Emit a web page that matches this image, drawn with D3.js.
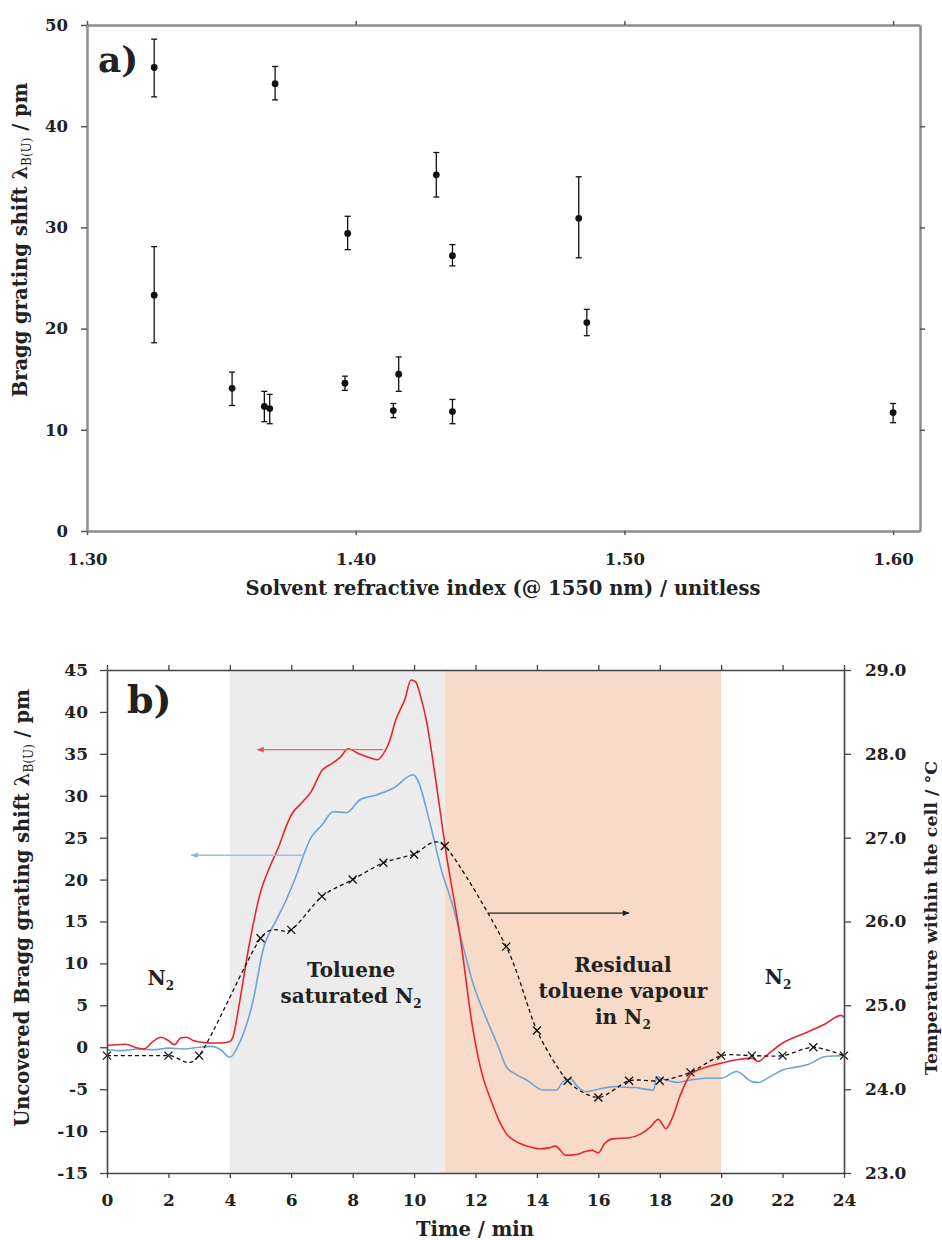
<!DOCTYPE html>
<html>
<head>
<meta charset="utf-8">
<script src="https://cdn.jsdelivr.net/npm/d3@7"></script>
<style>
  html, body { margin: 0; padding: 0; background: #fff; }
  svg { display: block; }
  text { font-family: "DejaVu Serif", "Liberation Serif", serif; font-weight: bold; fill: #222; }
</style>
</head>
<body>
<svg id="chart" width="942" height="1240"></svg>
<script>
// ---------------- Panel a data ----------------
const riX    = [1.325, 1.325, 1.354, 1.366, 1.368, 1.370, 1.396, 1.397, 1.414, 1.416, 1.430, 1.436, 1.436, 1.483, 1.486, 1.600];
const shiftA = [45.8, 23.3, 14.1, 12.3, 12.1, 44.2, 14.6, 29.4, 11.9, 15.5, 35.2, 27.2, 11.8, 30.9, 20.6, 11.7];
const errLo  = [42.9, 18.6, 12.4, 10.8, 10.6, 42.6, 13.9, 27.8, 11.2, 13.8, 33.0, 26.2, 10.6, 27.0, 19.3, 10.7];
const errHi  = [48.6, 28.1, 15.7, 13.8, 13.5, 45.9, 15.3, 31.1, 12.6, 17.2, 37.4, 28.3, 13.0, 35.0, 21.9, 12.6];
const xTicksA = [1.30, 1.40, 1.50, 1.60];
const yTicksA = [0, 10, 20, 30, 40, 50];

// ---------------- Panel b data ----------------
const redT = [0, 0.3, 0.6, 1.0, 1.2, 1.5, 1.75, 2.0, 2.2, 2.4, 2.6, 2.8, 3.1, 3.4, 3.7, 4.0, 4.1, 4.3, 4.6, 5.0, 5.3, 5.6, 5.85, 6.05, 6.3, 6.65, 7.0, 7.35, 7.6, 7.85, 8.2, 8.5, 8.8, 9.0, 9.2, 9.4, 9.7, 9.9, 10.05, 10.2, 10.4, 10.7, 11.05, 11.5, 11.9, 12.2, 12.5, 12.8, 13.0, 13.3, 13.7, 14.1, 14.4, 14.6, 14.95, 15.3, 15.6, 15.8, 16.0, 16.2, 16.5, 17.0, 17.4, 17.7, 17.95, 18.2, 18.4, 18.65, 19.0, 19.5, 20.0, 20.5, 21.0, 21.2, 21.5, 22.0, 22.4, 22.8, 23.4, 23.9, 24.0];
const redV = [0.2, 0.3, 0.35, -0.1, -0.2, 0.7, 1.2, 0.8, 0.3, 1.1, 1.2, 0.8, 0.6, 0.5, 0.5, 0.7, 1.2, 5.0, 11.6, 18.5, 21.5, 24.0, 26.5, 28.0, 29.0, 30.5, 33.0, 33.9, 34.6, 35.6, 35.0, 34.6, 34.3, 35.0, 36.5, 39.0, 41.5, 43.8, 43.6, 42.0, 39.0, 32.0, 23.0, 13.2, 2.5, -3.0, -6.3, -9.0, -10.3, -11.2, -11.8, -12.1, -12.0, -11.8, -12.9, -12.8, -12.4, -12.3, -12.6, -11.5, -10.9, -10.8, -10.3, -9.5, -8.6, -9.7, -8.5, -5.9, -3.3, -2.4, -1.9, -1.5, -1.3, -1.7, -0.9, 0.5, 1.2, 1.8, 2.8, 3.8, 3.6];

const blueT = [0, 0.5, 1.0, 1.5, 2.0, 2.5, 3.0, 3.4, 3.7, 4.0, 4.3, 4.76, 5.08, 5.52, 5.84, 6.06, 6.66, 7.0, 7.36, 7.8, 8.23, 8.77, 9.32, 9.97, 10.1, 10.5, 10.9, 11.27, 11.6, 11.92, 12.2, 12.47, 12.75, 13.0, 13.3, 13.66, 14.2, 14.64, 14.85, 15.1, 15.3, 15.6, 16.0, 16.5, 17.0, 17.2, 17.5, 17.8, 17.9, 18.1, 18.6, 19.0, 19.5, 20.0, 20.5, 21.0, 21.2, 21.6, 22.0, 22.4, 22.8, 23.4, 23.9, 24.0];
const blueV = [-0.3, -0.4, -0.2, -0.3, -0.1, -0.2, 0.0, 0.1, -0.3, -1.2, 0.4, 5.6, 11.6, 15.2, 17.6, 19.5, 25.1, 26.5, 28.1, 28.0, 29.5, 30.1, 30.9, 32.5, 32.0, 27.0, 21.0, 16.75, 12.0, 7.6, 4.8, 2.4, 0.0, -2.3, -3.2, -3.9, -5.1, -5.1, -4.1, -3.8, -4.6, -5.3, -5.0, -4.7, -4.8, -4.8, -5.0, -5.1, -3.5, -3.8, -4.2, -3.9, -3.7, -3.7, -2.9, -4.1, -4.2, -3.5, -2.7, -2.4, -2.1, -1.1, -1.0, -0.9];

const tempT = [0, 2, 3, 5, 6, 7, 8, 9, 10, 11, 13, 14, 15, 16, 17, 18, 19, 20, 21, 22, 23, 24];
const tempV = [24.4, 24.4, 24.4, 25.8, 25.9, 26.3, 26.5, 26.7, 26.8, 26.9, 25.7, 24.7, 24.1, 23.9, 24.1, 24.1, 24.2, 24.4, 24.4, 24.4, 24.5, 24.4];

const regionStart = [4, 11];
const regionEnd   = [11, 20];

const xTicksB  = [0, 2, 4, 6, 8, 10, 12, 14, 16, 18, 20, 22, 24];
const yTicksB  = [-15, -10, -5, 0, 5, 10, 15, 20, 25, 30, 35, 40, 45];
const yTicksBR = [23, 24, 25, 26, 27, 28, 29];

// ---------------- Drawing ----------------
const svg = d3.select("#chart");
const plainInt = d => String(d);   // hyphen-minus like the original

// ===== Panel a =====
const xa = d3.scaleLinear().domain([1.30, 1.61]).range([87, 920]);
const ya = d3.scaleLinear().domain([0, 50]).range([531, 25]);
const gA = svg.append("g");

function styleAxisA(g) {
  g.select(".domain").attr("stroke", "#8c8c8c").attr("stroke-width", 2.5);
  g.selectAll(".tick line").attr("stroke", "#555").attr("stroke-width", 1.5);
  g.selectAll(".tick text").style("font-size", "16.5px").attr("fill", "#222");
}
gA.append("g").attr("transform", `translate(0,${ya(0)})`)
  .call(d3.axisBottom(xa).tickValues(xTicksA).tickSize(4).tickSizeOuter(0).tickPadding(18).tickFormat(d3.format(".2f")))
  .call(styleAxisA);
gA.append("g").attr("transform", `translate(0,${ya(50)})`)
  .call(d3.axisTop(xa).tickValues(xTicksA).tickSize(4).tickSizeOuter(0).tickFormat(""))
  .call(styleAxisA);
gA.append("g").attr("transform", `translate(${xa(1.30)},0)`)
  .call(d3.axisLeft(ya).tickValues(yTicksA).tickSize(6).tickSizeOuter(0).tickPadding(13).tickFormat(plainInt))
  .call(styleAxisA);
gA.append("g").attr("transform", `translate(${xa(1.61)},0)`)
  .call(d3.axisRight(ya).tickValues(yTicksA.slice(1, 5)).tickSize(5).tickSizeOuter(0).tickFormat(""))
  .call(styleAxisA);

// error bars
const eb = gA.append("g").attr("stroke", "#111").attr("stroke-width", 1.3);
riX.forEach((r, i) => {
  const cx = xa(r);
  eb.append("line").attr("x1", cx).attr("x2", cx).attr("y1", ya(errLo[i])).attr("y2", ya(errHi[i]));
  eb.append("line").attr("x1", cx - 3).attr("x2", cx + 3).attr("y1", ya(errLo[i])).attr("y2", ya(errLo[i]));
  eb.append("line").attr("x1", cx - 3).attr("x2", cx + 3).attr("y1", ya(errHi[i])).attr("y2", ya(errHi[i]));
});
gA.append("g").selectAll("circle").data(riX).join("circle")
  .attr("cx", d => xa(d)).attr("cy", (d, i) => ya(shiftA[i])).attr("r", 3.4).attr("fill", "#111");

gA.append("text").attr("x", 98).attr("y", 72).style("font-size", "36px").text("a)");

gA.append("text").attr("x", 503).attr("y", 595).attr("text-anchor", "middle").style("font-size", "19.5px")
  .text("Solvent refractive index (@ 1550 nm) / unitless");
const ytA = gA.append("text").attr("transform", "translate(27,240) rotate(-90)").attr("text-anchor", "middle").style("font-size", "19.5px");
ytA.append("tspan").text("Bragg grating shift λ");
ytA.append("tspan").attr("dy", 4).style("font-size", "12px").style("font-weight", "normal").text("B(U)");
ytA.append("tspan").attr("dy", -4).text(" / pm");

// ===== Panel b =====
const xb = d3.scaleLinear().domain([0, 24]).range([107, 844]);
const yb = d3.scaleLinear().domain([-15, 45]).range([1173, 670]);
const yr = d3.scaleLinear().domain([23, 29]).range([1173, 670]);
const gB = svg.append("g");

const regionColors = ["#ececec", "#f8dac8"];
regionStart.forEach((s, i) => {
  gB.append("rect").attr("x", xb(s)).attr("y", yb(45))
    .attr("width", xb(regionEnd[i]) - xb(s)).attr("height", yb(-15) - yb(45))
    .attr("fill", regionColors[i]);
});

// region labels
function addLabel(t, v, lines) {
  const txt = gB.append("text").attr("text-anchor", "middle").style("font-size", "20px").attr("fill", "#333");
  lines.forEach((ln, k) => {
    const ts = txt.append("tspan").attr("x", xb(t)).attr("y", yb(v) + k * 26);
    if (ln.endsWith("N2")) {
      ts.append("tspan").text(ln.slice(0, -1));
      ts.append("tspan").attr("dy", 5).style("font-size", "12px").text("2");
    } else {
      ts.text(ln);
    }
  });
}
addLabel(1.75, 7.4, ["N2"]);
addLabel(7.95, 8.4, ["Toluene", "saturated N2"]);
addLabel(16.8, 9.0, ["Residual", "toluene vapour", "in N2"]);
addLabel(21.85, 7.6, ["N2"]);

// lines
const lineB = d3.line().x(d => xb(d[0])).y(d => yb(d[1])).curve(d3.curveMonotoneX);
gB.append("path").datum(blueT.map((t, i) => [t, blueV[i]]))
  .attr("d", lineB).attr("fill", "none").attr("stroke", "#6fa3d6").attr("stroke-width", 1.6);
gB.append("path").datum(redT.map((t, i) => [t, redV[i]]))
  .attr("d", lineB).attr("fill", "none").attr("stroke", "#e8262e").attr("stroke-width", 1.6);

const lineT = d3.line().x(d => xb(d[0])).y(d => yr(d[1])).curve(d3.curveCardinal.tension(0.2));
const tempData = tempT.map((t, i) => [t, tempV[i]]);
gB.append("path").datum(tempData).attr("d", lineT).attr("fill", "none")
  .attr("stroke", "#111").attr("stroke-width", 1.3).attr("stroke-dasharray", "4,3");
gB.append("g").selectAll("path").data(tempData).join("path")
  .attr("transform", d => `translate(${xb(d[0])},${yr(d[1])})`)
  .attr("d", "M-4,-4L4,4M-4,4L4,-4").attr("stroke", "#111").attr("stroke-width", 1.3).attr("fill", "none");

// arrows
const defs = svg.append("defs");
function mk(id, color) {
  defs.append("marker").attr("id", id).attr("viewBox", "0 0 10 10").attr("refX", 9).attr("refY", 5)
    .attr("markerWidth", 8).attr("markerHeight", 7).attr("markerUnits", "userSpaceOnUse").attr("orient", "auto")
    .append("path").attr("d", "M0,1L10,5L0,9Z").attr("fill", color);
}
mk("arR", "#e05555"); mk("arB", "#86b3de"); mk("arK", "#222");
gB.append("line").attr("x1", xb(9.0)).attr("x2", xb(4.9)).attr("y1", yb(35.5)).attr("y2", yb(35.5))
  .attr("stroke", "#e46a6a").attr("stroke-width", 1.3).attr("marker-end", "url(#arR)");
gB.append("line").attr("x1", xb(6.4)).attr("x2", xb(2.75)).attr("y1", yb(22.9)).attr("y2", yb(22.9))
  .attr("stroke", "#9cc0e2").attr("stroke-width", 1.3).attr("marker-end", "url(#arB)");
gB.append("line").attr("x1", xb(12.4)).attr("x2", xb(17.0)).attr("y1", yr(26.1)).attr("y2", yr(26.1))
  .attr("stroke", "#222").attr("stroke-width", 1.2).attr("marker-end", "url(#arK)");

// axes
function styleAxisB(g) {
  g.select(".domain").attr("stroke", "#444").attr("stroke-width", 1.6);
  g.selectAll(".tick line").attr("stroke", "#444").attr("stroke-width", 1.3);
  g.selectAll(".tick text").style("font-size", "17px").attr("fill", "#222");
}
gB.append("g").attr("transform", `translate(0,${yb(-15)})`)
  .call(d3.axisBottom(xb).tickValues(xTicksB).tickSize(5).tickSizeOuter(0).tickPadding(16).tickFormat(plainInt))
  .call(styleAxisB);
gB.append("g").attr("transform", `translate(0,${yb(45)})`)
  .call(d3.axisTop(xb).tickValues(xTicksB).tickSize(5).tickSizeOuter(0).tickFormat(""))
  .call(styleAxisB);
gB.append("g").attr("transform", `translate(${xb(0)},0)`)
  .call(d3.axisLeft(yb).tickValues(yTicksB).tickSize(7).tickSizeOuter(0).tickPadding(12).tickFormat(plainInt))
  .call(styleAxisB);
gB.append("g").attr("transform", `translate(${xb(24)},0)`)
  .call(d3.axisRight(yr).tickValues(yTicksBR).tickSize(7).tickSizeOuter(0).tickPadding(14).tickFormat(d3.format(".1f")))
  .call(styleAxisB);

gB.append("text").attr("x", 127).attr("y", 713).style("font-size", "38px").text("b)");

gB.append("text").attr("x", 475).attr("y", 1236).attr("text-anchor", "middle").style("font-size", "19.5px").text("Time / min");
const ytB = gB.append("text").attr("transform", "translate(29,908) rotate(-90)").attr("text-anchor", "middle").style("font-size", "19.5px");
ytB.append("tspan").text("Uncovered Bragg grating shift λ");
ytB.append("tspan").attr("dy", 4).style("font-size", "12px").style("font-weight", "normal").text("B(U)");
ytB.append("tspan").attr("dy", -4).text(" / pm");
gB.append("text").attr("transform", "translate(937,918) rotate(-90)").attr("text-anchor", "middle").style("font-size", "17.5px")
  .text("Temperature within the cell / °C");
</script>
</body>
</html>
